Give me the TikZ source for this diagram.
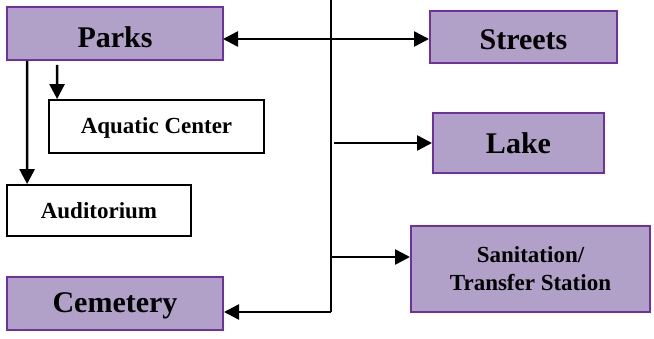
\documentclass[tikz,border=0pt]{standalone}
\usepackage{fontspec}
\setmainfont{Liberation Serif}
\usetikzlibrary{arrows.meta}
\definecolor{boxfill}{HTML}{B1A0C7}
\definecolor{boxline}{HTML}{7030A0}
\newcommand{\lowered}[2]{\raisebox{-#1}[\height][\depth]{#2}}
\begin{document}
\begin{tikzpicture}[x=1pt,y=-1pt,
  purplebox/.style={draw=boxline,fill=boxfill,line width=2pt,inner sep=0pt,align=center,font=\fontsize{30}{34}\selectfont\bfseries},
  whitebox/.style={draw=black,fill=white,line width=1.8pt,inner sep=0pt,align=center,font=\fontsize{23}{28}\selectfont\bfseries},
  conn/.style={line width=2.5pt,black},
  tip/.tip={Triangle[length=15pt,width=15pt]},
  arr/.style={conn,-tip}]
\useasboundingbox (0,0) rectangle (654,339);
\node[purplebox,minimum width=216pt,minimum height=53pt] (parks) at (115,33.5) {\lowered{4pt}{Parks}};
\node[whitebox,minimum width=215pt,minimum height=53pt] (aquatic) at (156.5,126.5) {\lowered{1pt}{Aquatic Center}};
\node[whitebox,minimum width=184pt,minimum height=51pt] (aud) at (99,210.5) {Auditorium};
\node[purplebox,minimum width=216pt,minimum height=53pt] (cem) at (115,303.5) {\lowered{2pt}{Cemetery}};
\node[purplebox,minimum width=187pt,minimum height=52pt] (streets) at (523.5,37) {\lowered{3pt}{Streets}};
\node[purplebox,minimum width=171pt,minimum height=60pt] (lake) at (518.5,143) {Lake};
\node[purplebox,minimum width=239pt,minimum height=86pt,font=\fontsize{23}{28}\selectfont\bfseries] (san) at (530.5,269) {Sanitation/\\Transfer Station};
\coordinate (top) at (331,0);
\coordinate (bot) at (331,312);
\coordinate (pk) at (223,39);
\draw[conn] (top) -- (bot);
\draw[arr] (bot) -- (bot -| cem.east);
\draw[conn,tip-tip] (pk) -- (pk -| streets.west);
\draw[arr] ([xshift=3pt]top |- lake.west) -- (lake.west);
\coordinate (sj) at (331,257);
\draw[arr] (sj) -- (sj -| san.west);
\draw[arr] ([xshift=21pt]parks.south west) -- ([xshift=21pt]aud.north west);
\draw[arr] ([xshift=51pt,yshift=-4pt]parks.south west) -- ([xshift=9pt]aquatic.north west);
\end{tikzpicture}
\end{document}
